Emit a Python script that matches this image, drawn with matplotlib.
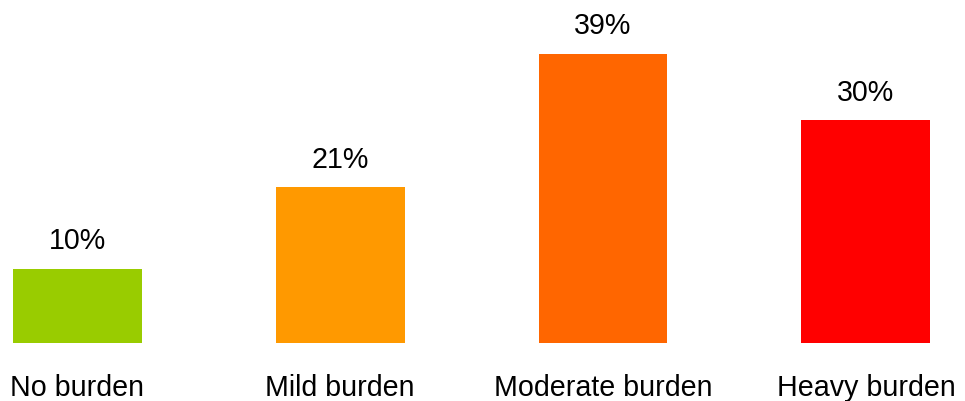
import matplotlib
matplotlib.use("Agg")
import matplotlib.pyplot as plt

categories = ["No burden", "Mild burden", "Moderate burden", "Heavy burden"]
values = [10, 21, 39, 30]
colors = ["#99CC00", "#FF9900", "#FF6600", "#FF0000"]

plt.rcParams["font.family"] = ["Liberation Sans", "DejaVu Sans"]
FS = 20.6

fig = plt.figure(figsize=(9.65, 4.01), dpi=100)
ax = fig.add_axes([0, 58 / 401, 1, 343 / 401])

x = range(len(categories))
ax.bar(x, values, width=0.49, color=colors, linewidth=0)

for i, v in enumerate(values):
    ax.annotate(f"{v}%", (i, v), xytext=(0, 13.9), textcoords="offset points",
                ha="center", va="baseline", fontsize=FS, color="black")
    ax.annotate(categories[i], (i, 0), xycoords=("data", "axes fraction"),
                xytext=(0, -37.9), textcoords="offset points",
                ha="center", va="baseline", fontsize=FS, color="black")

ax.set_xlim(-77.2 / 262.9, (965 - 77.2) / 262.9)
ax.set_ylim(0, 343 / 7.42)
ax.axis("off")

fig.savefig("out.png", dpi=100, facecolor="white")
